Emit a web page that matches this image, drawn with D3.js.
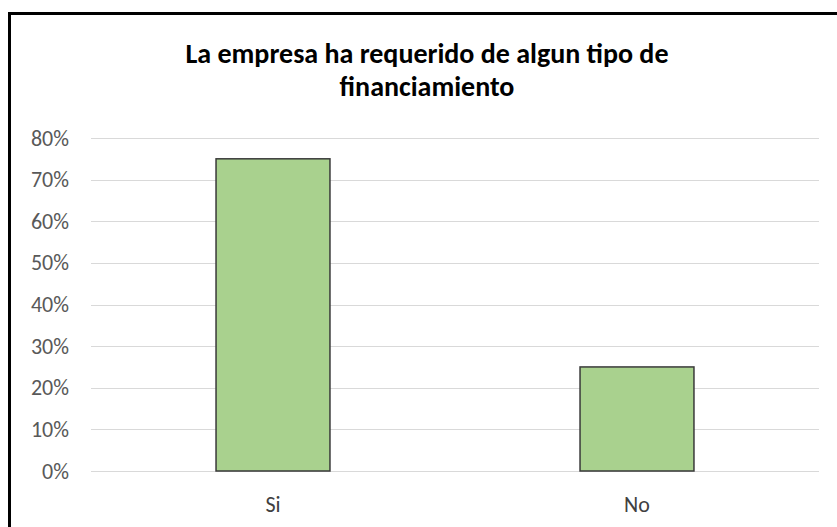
<!DOCTYPE html>
<html>
<head>
<meta charset="utf-8">
<script src="https://cdn.jsdelivr.net/npm/d3@7"></script>
<style>
  body { margin: 0; background: #fff; }
  svg { display: block; }
  text { font-family: Carlito, Calibri, Lato, "Open Sans", sans-serif; }
</style>
</head>
<body>
<div id="chart"></div>
<script>
var categories = ["Si", "No"];
var values = [0.75, 0.25];
var yTicks = [0, 0.1, 0.2, 0.3, 0.4, 0.5, 0.6, 0.7, 0.8];
var titleLines = ["La empresa ha requerido de algun tipo de", "financiamiento"];

var width = 837, height = 527;
var margin = {left: 91, right: 18, top: 138, bottom: 56};

var svg = d3.select("#chart").append("svg")
    .attr("width", width)
    .attr("height", height);

// frame (goes past the right and bottom edges like the screenshot)
svg.append("rect")
    .attr("x", 9.5).attr("y", 13.5)
    .attr("width", 900).attr("height", 600)
    .attr("fill", "#fff")
    .attr("stroke", "#000")
    .attr("stroke-width", 3);

var x = d3.scaleBand()
    .domain(categories)
    .range([margin.left, width - margin.right])
    .paddingInner(0.687)
    .paddingOuter(0.3435);

var y = d3.scaleLinear()
    .domain([0, 0.8])
    .range([height - margin.bottom, margin.top]);

// grid
svg.append("g").attr("class", "grid")
    .selectAll("line")
    .data(yTicks)
    .join("line")
    .attr("x1", margin.left)
    .attr("x2", width - margin.right)
    .attr("y1", d => Math.round(y(d)) + 0.5)
    .attr("y2", d => Math.round(y(d)) + 0.5)
    .attr("stroke", "#d9d9d9")
    .attr("stroke-width", 1);

// y labels
var yAxis = svg.append("g")
    .attr("transform", "translate(" + (margin.left - 22) + ",0)")
    .call(d3.axisLeft(y).tickValues(yTicks).tickFormat(d3.format(".0%")).tickSize(0));
yAxis.select(".domain").remove();
yAxis.selectAll("text")
    .attr("x", 0)
    .attr("fill", "#595959")
    .style("font-size", "22px");

// bars
svg.append("g").selectAll("rect")
    .data(values)
    .join("rect")
    .attr("x", (d, i) => x(categories[i]))
    .attr("y", d => y(d))
    .attr("width", x.bandwidth())
    .attr("height", d => y(0) - y(d))
    .attr("fill", "#a9d18e")
    .attr("stroke", "#3a3a3a")
    .attr("stroke-width", 1.5);

// x labels
var xAxis = svg.append("g")
    .attr("transform", "translate(0," + y(0) + ")")
    .call(d3.axisBottom(x).tickSize(0).tickPadding(25));
xAxis.select(".domain").remove();
xAxis.selectAll("text")
    .attr("fill", "#404040")
    .style("font-size", "22px");

// title
svg.append("g").selectAll("text")
    .data(titleLines)
    .join("text")
    .attr("x", 427)
    .attr("y", (d, i) => 63 + i * 33)
    .attr("text-anchor", "middle")
    .attr("fill", "#000")
    .style("font-size", "28px")
    .style("font-weight", "bold")
    .text(d => d);
</script>
</body>
</html>
